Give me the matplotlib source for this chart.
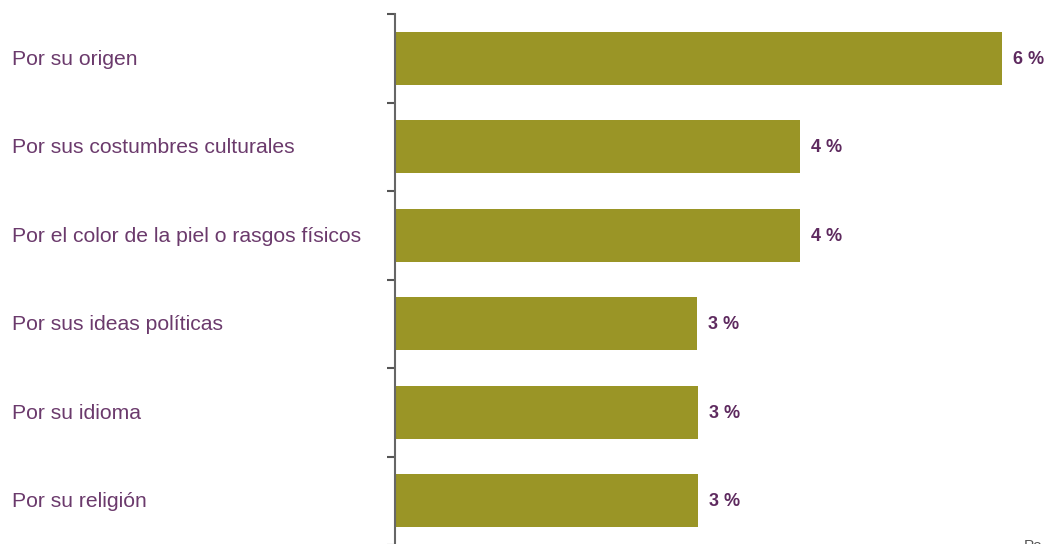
import matplotlib.pyplot as plt

categories = ["Por su origen", "Por sus costumbres culturales",
              "Por el color de la piel o rasgos físicos", "Por sus ideas políticas",
              "Por su idioma", "Por su religión"]
values = [6.0, 4.0, 4.0, 2.98, 2.99, 2.99]
value_labels = ["6 %", "4 %", "4 %", "3 %", "3 %", "3 %"]

bar_color = "#9a9526"
label_color = "#6b3a6c"
value_color = "#5e2a5f"

plt.rcParams["font.family"] = ["Liberation Sans", "DejaVu Sans"]

fig = plt.figure(figsize=(10.44, 5.44), dpi=100)
ax = fig.add_axes([395 / 1044, -1 / 544, 1 - 395 / 1044, 531 / 544])

ypos = list(range(len(categories)))
ax.barh(ypos, values, height=0.6, color=bar_color)
ax.set_ylim(len(categories) - 0.5, -0.5)
ax.set_xlim(0, (1044 - 395) / 101.2)

for y, v, lab in zip(ypos, values, value_labels):
    ax.annotate(lab, (v, y), xytext=(11, -1), textcoords="offset pixels",
                ha="left", va="center", fontsize=13, fontweight="bold",
                color=value_color)

# category labels at the left edge of the figure
for y, cat in zip(ypos, categories):
    ax.annotate(cat, (0, y), xycoords=("figure pixels", "data"),
                xytext=(12, -1), textcoords="offset pixels",
                ha="left", va="center", fontsize=15.2, color=label_color)

# ticks at category boundaries
ax.set_yticks([i - 0.5 for i in range(len(categories) + 1)])
ax.set_yticklabels([])
ax.tick_params(axis="y", direction="out", length=6, width=1.5, color="#555555")
ax.set_xticks([])
for s in ["top", "right", "bottom"]:
    ax.spines[s].set_visible(False)
ax.spines["left"].set_color("#666666")
ax.spines["left"].set_linewidth(1.5)

# footnote, cut off by the bottom edge like in the source
fig.text(1024 / 1044, 1 - 539 / 544, "Po", ha="left", va="top",
         fontsize=11, color="#555555")

fig.savefig("out.png", dpi=100)
